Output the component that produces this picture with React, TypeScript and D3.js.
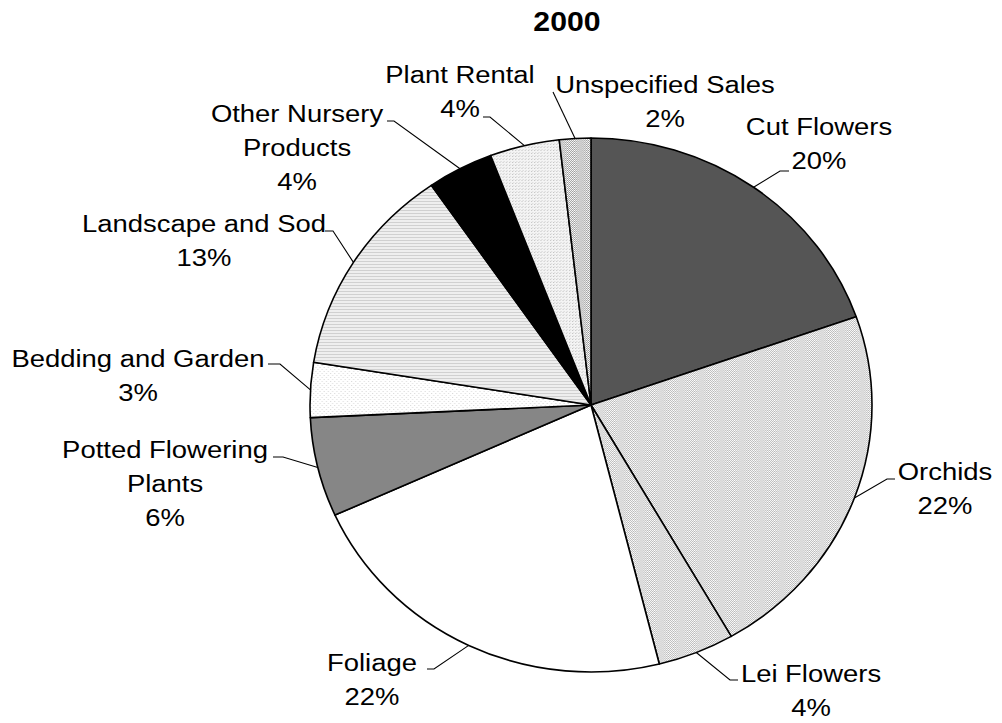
import * as d3 from "d3";

const categories = [
  "Cut Flowers",
  "Orchids",
  "Lei Flowers",
  "Foliage",
  "Potted Flowering Plants",
  "Bedding and Garden",
  "Landscape and Sod",
  "Other Nursery Products",
  "Plant Rental",
  "Unspecified Sales",
];
const shares = [19.6, 22.0, 4.4, 22.1, 6.0, 3.3, 12.8, 3.8, 4.0, 1.8];
const pctLabels = ["20%", "22%", "4%", "22%", "6%", "3%", "13%", "4%", "4%", "2%"];
const nameLines = [
  ["Cut Flowers"],
  ["Orchids"],
  ["Lei Flowers"],
  ["Foliage"],
  ["Potted Flowering", "Plants"],
  ["Bedding and Garden"],
  ["Landscape and Sod"],
  ["Other Nursery", "Products"],
  ["Plant Rental"],
  ["Unspecified Sales"],
];
const fills = [
  "#555555",
  "url(#checkLight)",
  "url(#checkLight)",
  "#ffffff",
  "#868686",
  "url(#dotsSparse)",
  "url(#stripes)",
  "#000000",
  "url(#dotsDense)",
  "url(#checkDark)",
];

// label block: centre x, first baseline, leader elbow, leader end
const labelLayout = [
  { x: 819, y: 135, elbow: [780, 171], end: [789, 171] },
  { x: 945, y: 480, elbow: [887, 479], end: [895, 479] },
  { x: 811, y: 682, elbow: [730, 680], end: [738, 680] },
  { x: 372, y: 671, elbow: [434, 669], end: [427, 669] },
  { x: 165, y: 458, elbow: [283, 457], end: [273, 457] },
  { x: 138, y: 367, elbow: [280, 364], end: [268, 364] },
  { x: 204, y: 232, elbow: [333, 231], end: [325, 231] },
  { x: 297, y: 122, elbow: [394, 121], end: [387, 121] },
  { x: 460, y: 83, elbow: [490, 117], end: [483, 117] },
  { x: 665, y: 93, elbow: [553, 92], end: [553, 92] },
];

const width = 1002;
const height = 723;
const cx = 591;
const cy = 405;
const R = 267;
const sx = 281 / 267;
const lineGap = 34;
const font = "'Liberation Sans', Arial, sans-serif";
const textStretch = 1.12;

export default function App() {
  const pie = d3
    .pie<number>()
    .sort(null)
    .value((d) => d);
  const arcs = pie(shares);
  const arc = d3.arc<d3.PieArcDatum<number>>().innerRadius(0).outerRadius(R);

  const edgePoint = (a: d3.PieArcDatum<number>) => {
    const m = (a.startAngle + a.endAngle) / 2;
    return [cx + sx * R * Math.sin(m), cy - R * Math.cos(m)];
  };

  return (
    <svg
      width={width}
      height={height}
      style={{ position: "absolute", left: 0, top: 0, background: "#fff" }}
    >
      <defs>
        <pattern id="checkLight" width="2" height="2" patternUnits="userSpaceOnUse">
          <rect width="2" height="2" fill="#ffffff" />
          <rect width="1" height="1" fill="#b8b8b8" />
          <rect x="1" y="1" width="1" height="1" fill="#b8b8b8" />
        </pattern>
        <pattern id="checkDark" width="2" height="2" patternUnits="userSpaceOnUse">
          <rect width="2" height="2" fill="#ffffff" />
          <rect width="1" height="1" fill="#9a9a9a" />
          <rect x="1" y="1" width="1" height="1" fill="#9a9a9a" />
        </pattern>
        <pattern id="stripes" width="3" height="3" patternUnits="userSpaceOnUse">
          <rect width="3" height="3" fill="#eeeeee" />
          <rect width="3" height="1" fill="#d0d0d0" />
        </pattern>
        <pattern id="dotsSparse" width="4" height="4" patternUnits="userSpaceOnUse">
          <rect width="4" height="4" fill="#ffffff" />
          <rect width="1" height="1" fill="#dadada" />
          <rect x="2" y="2" width="1" height="1" fill="#dadada" />
        </pattern>
        <pattern id="dotsDense" width="3" height="3" patternUnits="userSpaceOnUse">
          <rect width="3" height="3" fill="#f4f4f4" />
          <rect width="1" height="1" fill="#c4c4c4" />
          <rect x="1" y="2" width="1" height="1" fill="#d6d6d6" />
        </pattern>
      </defs>

      <text
        transform={`translate(567,31) scale(${textStretch},1)`}
        textAnchor="middle"
        fontFamily={font}
        fontWeight="bold"
        fontSize={27}
        fill="#000"
      >
        2000
      </text>

      <g transform={`translate(${cx},${cy}) scale(${sx},1)`}>
        {arcs.map((a, i) => (
          <path
            key={categories[i]}
            d={arc(a) ?? ""}
            fill={fills[i]}
            stroke="#000"
            strokeWidth={1.6}
            strokeLinejoin="round"
            vectorEffect="non-scaling-stroke"
          />
        ))}
      </g>

      <g fill="none" stroke="#000" strokeWidth={1.1}>
        {arcs.map((a, i) => {
          const p = edgePoint(a);
          const L = labelLayout[i];
          return (
            <polyline
              key={categories[i]}
              points={`${p[0]},${p[1]} ${L.elbow[0]},${L.elbow[1]} ${L.end[0]},${L.end[1]}`}
            />
          );
        })}
      </g>

      <g fontFamily={font} fontSize={24.5} fill="#000" textAnchor="middle">
        {categories.map((c, i) => {
          const L = labelLayout[i];
          const lines = [...nameLines[i], pctLabels[i]];
          return (
            <g key={c}>
              {lines.map((t, j) => (
                <text
                  key={j}
                  transform={`translate(${L.x},${L.y + j * lineGap}) scale(${textStretch},1)`}
                >
                  {t}
                </text>
              ))}
            </g>
          );
        })}
      </g>
    </svg>
  );
}
